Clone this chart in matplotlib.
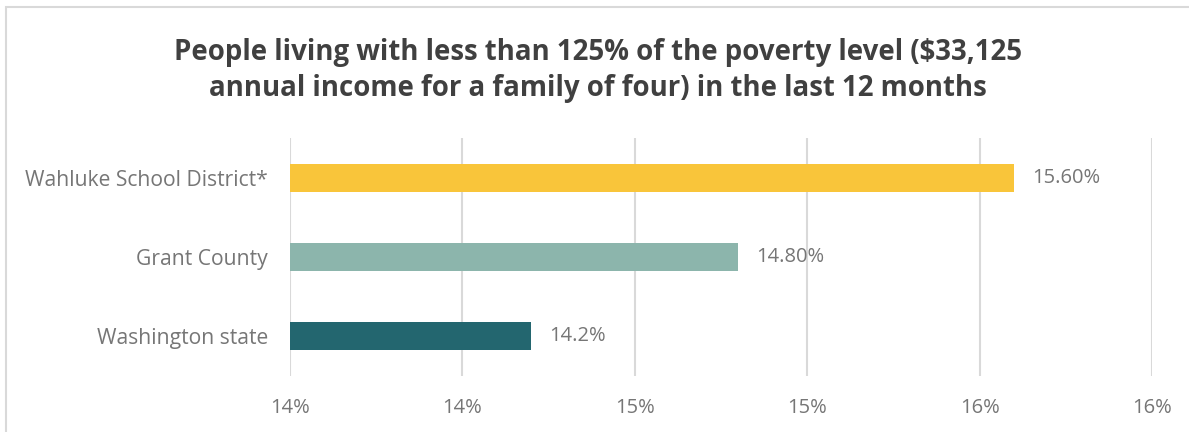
import numpy as np
import matplotlib.pyplot as plt
from matplotlib.patches import Rectangle

categories = ['Washington state', 'Grant County', 'Wahluke School District*']
values = [14.2, 14.8, 15.6]
value_labels = ['14.2%', '14.80%', '15.60%']
bar_colors = ['#23666f', '#8cb5ac', '#f9c53a']
xtick_labels = ['14%', '14%', '15%', '15%', '16%', '16%']
title = ('People living with less than 125% of the poverty level ($33,125\n'
         'annual income for a family of four) in the last 12 months')


def main():
    plt.rcParams['font.family'] = ['Open Sans', 'DejaVu Sans']

    fig = plt.figure(figsize=(11.89, 4.32), dpi=100)
    ax = fig.add_axes([0.2439, 0.1296, 0.7250, 0.5510])

    # chart frame (runs off right / bottom like the screenshot)
    fig.patches.append(Rectangle((0.005, -0.05), 1.1, 1.034,
                                 transform=fig.transFigure, fill=False,
                                 edgecolor='#d9d9d9', linewidth=1.5))

    y = np.arange(len(categories))
    bars = ax.barh(y, values, height=0.35, color=bar_colors, zorder=3)
    ax.set_xlim(13.5, 16.0)
    ax.set_ylim(-0.5, len(categories) - 0.5)

    ax.set_xticks(np.arange(13.5, 16.01, 0.5))
    ax.set_xticklabels(xtick_labels, fontsize=14.5)
    ax.set_yticks(y)
    ax.set_yticklabels(categories, fontsize=15.2)

    for b, lab in zip(bars, value_labels):
        ax.annotate(lab, (b.get_width(), b.get_y() + b.get_height() / 2),
                    xytext=(13, 0), textcoords='offset points',
                    va='center', ha='left', fontsize=14.5, color='#767676')

    ax.grid(axis='x', color='#d9d9d9', linewidth=1.5, zorder=0)
    for s in ax.spines.values():
        s.set_visible(False)
    ax.tick_params(length=0, labelcolor='#767676')
    ax.tick_params(axis='x', pad=16)
    ax.tick_params(axis='y', pad=16)

    fig.text(0.503, 0.912, title, ha='center', va='top', fontsize=19.9,
             fontweight='bold', color='#404040', linespacing=1.32)

    fig.savefig('out.png', dpi=100)


if __name__ == "__main__":
    main()
